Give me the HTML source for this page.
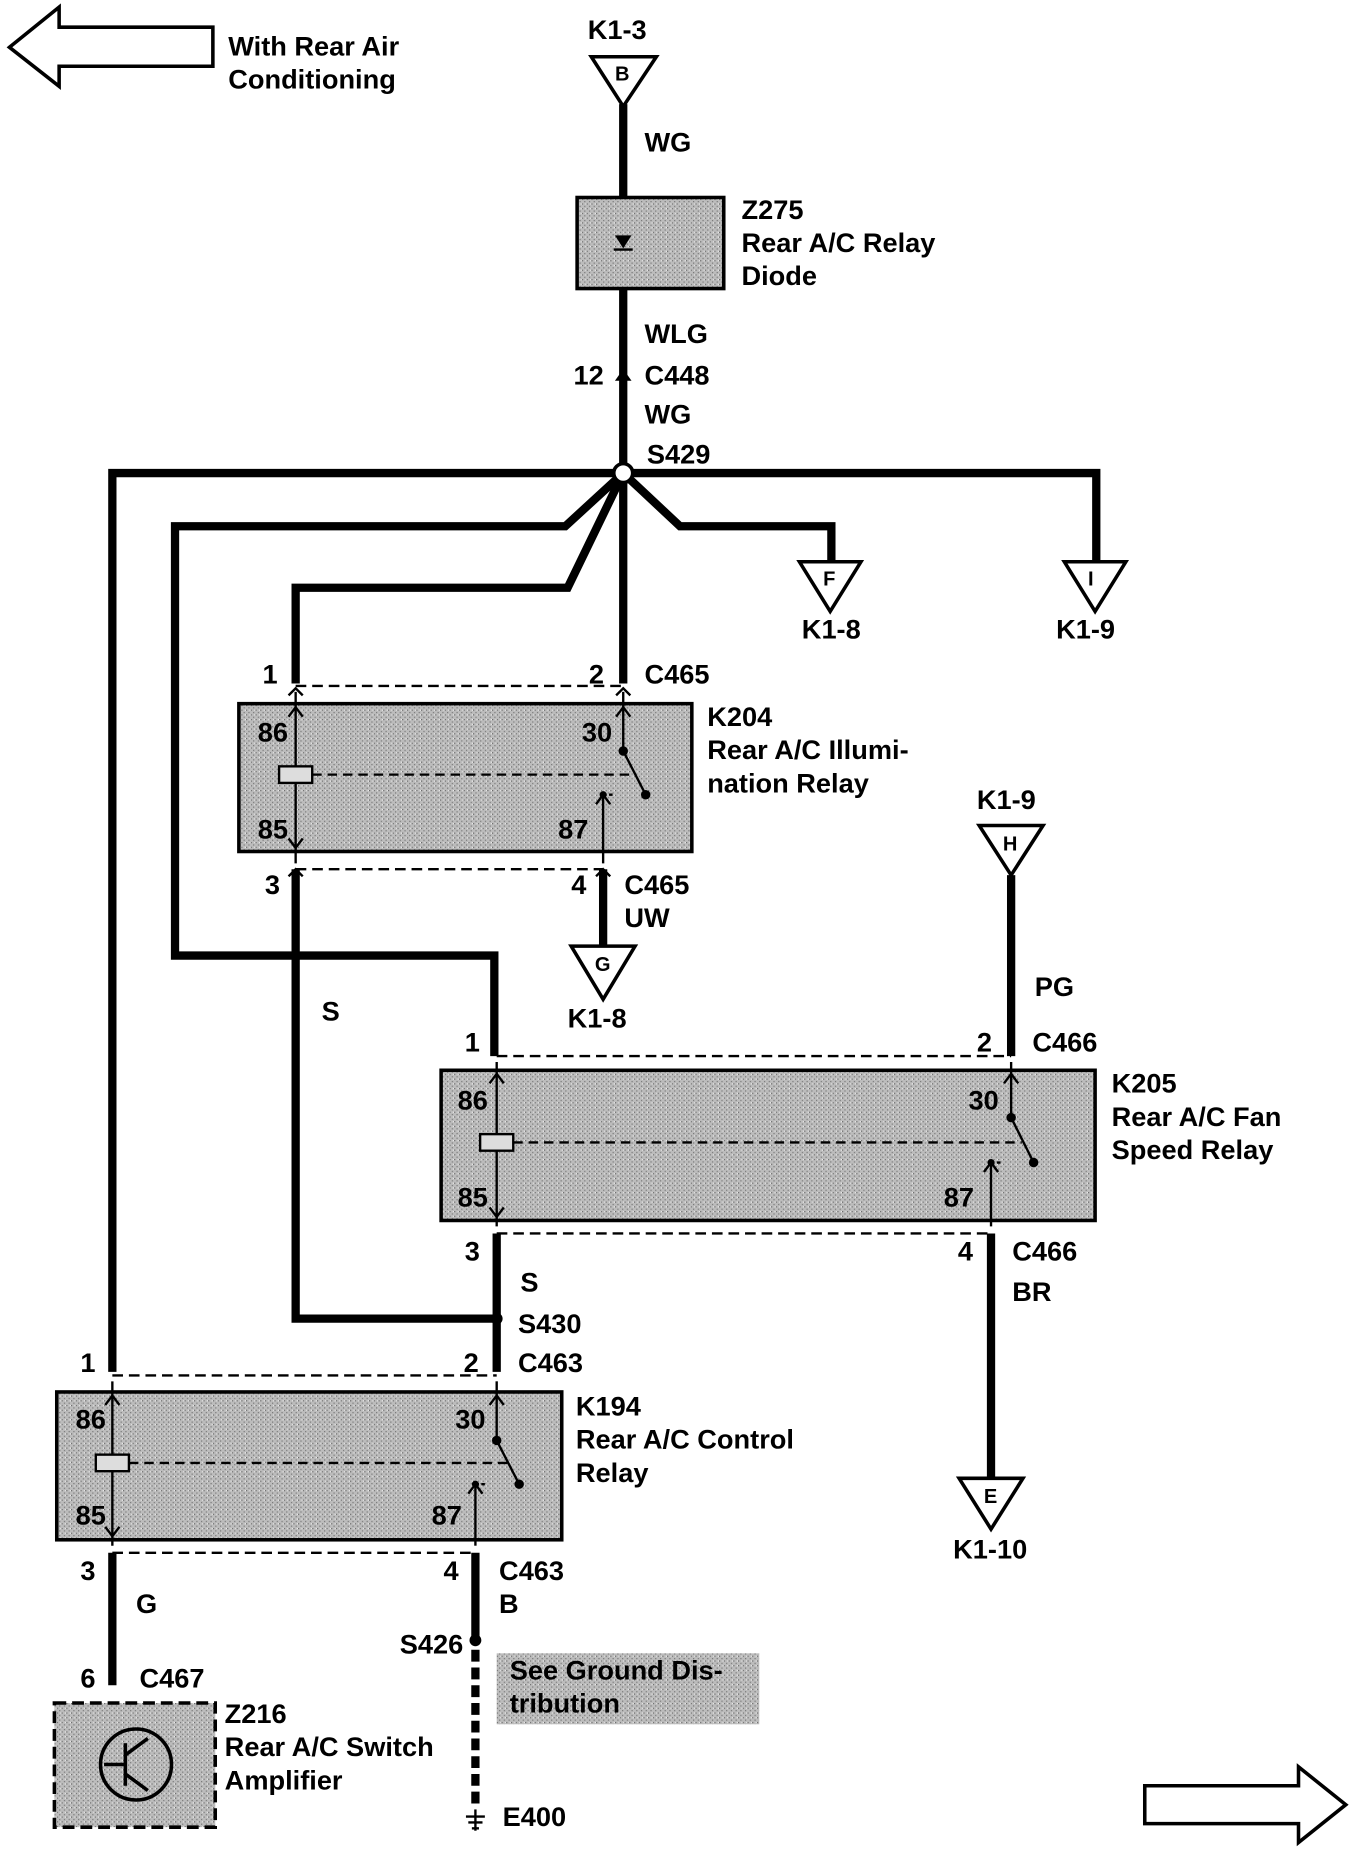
<!DOCTYPE html>
<html><head><meta charset="utf-8"><style>
html,body{margin:0;padding:0;background:#fff;}
svg{display:block}
text{font-family:"Liberation Sans",sans-serif;font-weight:bold;font-size:23px;fill:#000}
</style></head><body>
<svg width="1360" height="1852" viewBox="0 0 1150 1566" preserveAspectRatio="none" xmlns="http://www.w3.org/2000/svg">
<defs>
<pattern id="dith" width="4" height="4" patternUnits="userSpaceOnUse">
<rect width="4" height="4" fill="#bcbcbc"/><rect x="0" y="0" width="1" height="1" fill="#666"/><rect x="2" y="2" width="1" height="1" fill="#777"/><rect x="3" y="0" width="1" height="1" fill="#eee"/>
</pattern>
</defs>
<polygon points="8,40 50,6 50,23 180,23 180,56 50,56 50,73" fill="#fff" stroke="#000" stroke-width="3"/>
<text x="193" y="47">With Rear Air</text><text x="193" y="75">Conditioning</text>
<polygon points="968,1510 1098,1510 1098,1494 1138,1526 1098,1558 1098,1542 968,1542" fill="#fff" stroke="#000" stroke-width="3"/>

<g stroke="#000" stroke-width="7" fill="none" stroke-linejoin="miter">
<line x1="527" y1="88" x2="527" y2="167"/>
<line x1="527" y1="244" x2="527" y2="578"/>
<polyline points="95,1160 95,400 927,400 927,475"/>
<polyline points="527,400 478,445 148,445 148,808 418,808 418,893"/>
<polyline points="527,400 480,497 250,497 250,578"/>
<polyline points="527,400 575,445 703,445 703,475"/>
<polyline points="510,735 510,800"/>
<polyline points="250,735 250,1115 420,1115"/>
<line x1="855" y1="740" x2="855" y2="893"/>
<line x1="420" y1="1043" x2="420" y2="1160"/>
<line x1="838" y1="1043" x2="838" y2="1250"/>
<line x1="95" y1="1313" x2="95" y2="1425"/>
<line x1="402" y1="1313" x2="402" y2="1387"/>
<line x1="402" y1="1395" x2="402" y2="1530" stroke-dasharray="10,5"/>
</g>
<g fill="#fff" stroke="#000" stroke-width="3">
<polygon points="500,48 555,48 527,90"/>
<polygon points="900,475 952,475 926,517"/>
<polygon points="676,475 728,475 702,517"/>
<polygon points="483,800 537,800 510,845"/>
<polygon points="828,698 882,698 855,740"/>
<polygon points="811,1250 865,1250 838,1293"/>
</g>
<g><text x="520" y="68" style="font-size:17px">B</text><text x="920" y="495" style="font-size:17px">I</text><text x="696" y="495" style="font-size:17px">F</text><text x="503" y="821" style="font-size:17px">G</text><text x="848" y="719" style="font-size:17px">H</text><text x="832" y="1271" style="font-size:17px">E</text></g>

<rect x="488" y="167" width="124" height="77" fill="url(#dith)" stroke="#000" stroke-width="3"/>
<polygon points="520,199 534,199 527,210" fill="#000"/><line x1="519" y1="211" x2="535" y2="211" stroke="#000" stroke-width="2"/>
<circle cx="527" cy="400" r="8" fill="#fff" stroke="#000" stroke-width="3"/>
<circle cx="420" cy="1115" r="5" fill="#000"/>
<circle cx="402" cy="1387" r="5" fill="#000"/>
<path d="M520,322 L527,312 L534,322 Z" fill="#000"/>
<g stroke="#000" stroke-width="2"><line x1="402" y1="1530" x2="402" y2="1548"/><line x1="394" y1="1536" x2="410" y2="1536"/><line x1="396" y1="1541" x2="408" y2="1541"/><line x1="399" y1="1546" x2="405" y2="1546"/></g>

<g stroke="#000" stroke-width="2" stroke-dasharray="9,5">
<line x1="250" y1="580" x2="527" y2="580"/>
<line x1="250" y1="735" x2="510" y2="735"/>
<line x1="420" y1="893" x2="855" y2="893"/>
<line x1="420" y1="1043" x2="838" y2="1043"/>
<line x1="95" y1="1163" x2="420" y2="1163"/>
<line x1="95" y1="1313" x2="402" y2="1313"/>
</g>

<g stroke="#000">
<rect x="202" y="595" width="383" height="125" fill="url(#dith)" stroke-width="3"/>
<rect x="373" y="905" width="553" height="127" fill="url(#dith)" stroke-width="3"/>
<rect x="48" y="1177" width="427" height="125" fill="url(#dith)" stroke-width="3"/>
</g>
<g stroke="#000" stroke-width="2" fill="none">
<line x1="250" y1="585" x2="250" y2="730"/><line x1="527" y1="585" x2="527" y2="635"/><line x1="527" y1="635" x2="546" y2="672"/>
<line x1="510" y1="672" x2="510" y2="730"/><line x1="510" y1="672" x2="518" y2="672" stroke-dasharray="3,2"/>
<rect x="236" y="648" width="28" height="14" fill="#ddd"/><line x1="264" y1="655" x2="536" y2="655" stroke-dasharray="8,5"/>
<line x1="420" y1="898" x2="420" y2="1037"/><line x1="855" y1="898" x2="855" y2="945"/><line x1="855" y1="945" x2="874" y2="983"/>
<line x1="838" y1="983" x2="838" y2="1037"/><line x1="838" y1="983" x2="846" y2="983" stroke-dasharray="3,2"/>
<rect x="406" y="959" width="28" height="14" fill="#ddd"/><line x1="434" y1="966" x2="864" y2="966" stroke-dasharray="8,5"/>
<line x1="95" y1="1168" x2="95" y2="1307"/><line x1="420" y1="1168" x2="420" y2="1218"/><line x1="420" y1="1218" x2="439" y2="1255"/>
<line x1="402" y1="1255" x2="402" y2="1307"/><line x1="402" y1="1255" x2="410" y2="1255" stroke-dasharray="3,2"/>
<rect x="81" y="1230" width="28" height="14" fill="#ddd"/><line x1="109" y1="1237" x2="430" y2="1237" stroke-dasharray="8,5"/>
</g>
<g fill="#000">
<circle cx="527" cy="635" r="4"/><circle cx="546" cy="672" r="4"/><circle cx="510" cy="672" r="3"/>
<circle cx="855" cy="945" r="4"/><circle cx="874" cy="983" r="4"/><circle cx="838" cy="983" r="3"/>
<circle cx="420" cy="1218" r="4"/><circle cx="439" cy="1255" r="4"/><circle cx="402" cy="1255" r="3"/>
</g>
<g fill="none" stroke="#000" stroke-width="2">
<path d="M244,606 L250,598 L256,606 M244,709 L250,717 L256,709 M521,606 L527,598 L533,606 M504,680 L510,672 L516,680"/>
<path d="M414,916 L420,908 L426,916 M414,1021 L420,1029 L426,1021 M849,916 L855,908 L861,916 M832,991 L838,983 L844,991"/>
<path d="M89,1188 L95,1180 L101,1188 M89,1291 L95,1299 L101,1291 M414,1188 L420,1180 L426,1188 M396,1263 L402,1255 L408,1263"/>
<path d="M244,588 L250,582 L256,588 M244,741 L250,735 L256,741 M504,741 L510,735 L516,741 M521,588 L527,582 L533,588"/>
</g>

<rect x="420" y="1398" width="222" height="60" fill="url(#dith)"/>
<text x="431" y="1420">See Ground Dis-</text><text x="431" y="1448">tribution</text>
<rect x="46" y="1440" width="136" height="105" fill="url(#dith)" stroke="#000" stroke-width="3" stroke-dasharray="10,5"/>
<circle cx="115" cy="1492" r="30" fill="none" stroke="#000" stroke-width="3"/>
<g stroke="#000" stroke-width="3"><line x1="106" y1="1474" x2="106" y2="1510"/><line x1="88" y1="1492" x2="106" y2="1492"/><line x1="106" y1="1484" x2="125" y2="1470"/><line x1="106" y1="1500" x2="125" y2="1514"/></g>

<text x="497" y="33">K1-3</text>
<text x="545" y="128">WG</text>
<text x="627" y="185">Z275</text><text x="627" y="213">Rear A/C Relay</text><text x="627" y="241">Diode</text>
<text x="545" y="290">WLG</text><text x="485" y="325">12</text><text x="545" y="325">C448</text>
<text x="545" y="358">WG</text><text x="547" y="392">S429</text>
<text x="678" y="540">K1-8</text><text x="893" y="540">K1-9</text>
<text x="222" y="578">1</text><text x="498" y="578">2</text><text x="545" y="578">C465</text>
<text x="598" y="614">K204</text><text x="598" y="642">Rear A/C Illumi-</text><text x="598" y="670">nation Relay</text>
<text x="218" y="627">86</text><text x="218" y="709">85</text><text x="492" y="627">30</text><text x="472" y="709">87</text>
<text x="224" y="756">3</text><text x="483" y="756">4</text><text x="528" y="756">C465</text><text x="528" y="784">UW</text>
<text x="480" y="869">K1-8</text><text x="272" y="863">S</text>
<text x="826" y="684">K1-9</text><text x="875" y="842">PG</text>
<text x="393" y="889">1</text><text x="826" y="889">2</text><text x="873" y="889">C466</text>
<text x="940" y="924">K205</text><text x="940" y="952">Rear A/C Fan</text><text x="940" y="980">Speed Relay</text>
<text x="387" y="938">86</text><text x="387" y="1020">85</text><text x="819" y="938">30</text><text x="798" y="1020">87</text>
<text x="393" y="1066">3</text><text x="810" y="1066">4</text><text x="856" y="1066">C466</text><text x="856" y="1100">BR</text>
<text x="440" y="1092">S</text><text x="438" y="1127">S430</text>
<text x="806" y="1318">K1-10</text>
<text x="68" y="1160">1</text><text x="392" y="1160">2</text><text x="438" y="1160">C463</text>
<text x="487" y="1197">K194</text><text x="487" y="1225">Rear A/C Control</text><text x="487" y="1253">Relay</text>
<text x="64" y="1208">86</text><text x="64" y="1289">85</text><text x="385" y="1208">30</text><text x="365" y="1289">87</text>
<text x="68" y="1336">3</text><text x="115" y="1364">G</text><text x="375" y="1336">4</text><text x="422" y="1336">C463</text><text x="422" y="1364">B</text>
<text x="338" y="1398">S426</text>
<text x="68" y="1427">6</text><text x="118" y="1427">C467</text>
<text x="190" y="1457">Z216</text><text x="190" y="1485">Rear A/C Switch</text><text x="190" y="1513">Amplifier</text>
<text x="425" y="1544">E400</text>
</svg>
</body></html>
